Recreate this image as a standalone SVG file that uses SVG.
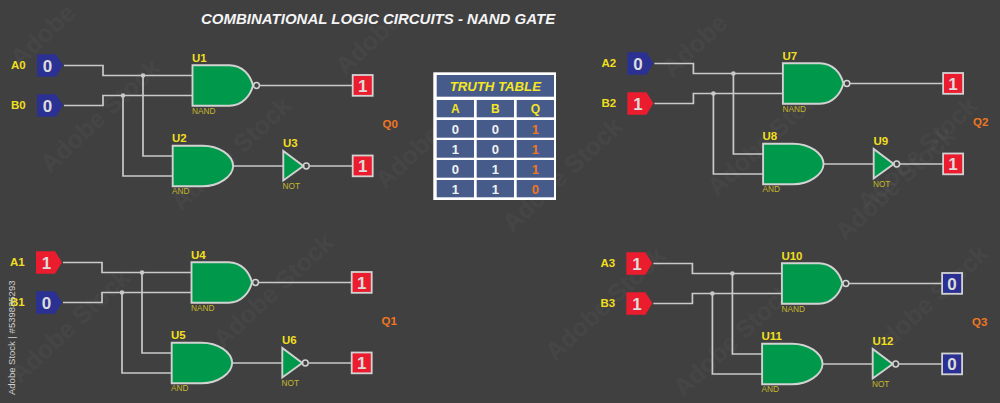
<svg xmlns="http://www.w3.org/2000/svg" width="1000" height="403" viewBox="0 0 1000 403">
<style>
text{font-family:"Liberation Sans",Arial,sans-serif;font-weight:bold}
.wm{fill:#fff;fill-opacity:.055;font-size:25px}
.side{fill:#cfcfcf;font-weight:normal;font-size:9.500px}
.title{fill:#f4f4f4;font-size:15px;font-style:italic}
.w{fill:none;stroke:#c9c9c9;stroke-width:1.700}
.g{fill:#00984a;stroke:#d2d2d2;stroke-width:1.900}
.bub{fill:none;stroke:#d2d2d2;stroke-width:1.500}
.dot{fill:#c9c9c9}
.pin{fill:#f0df1e;font-size:11.500px}
.u{fill:#f0df1e;font-size:11.500px}
.t{fill:#c4b72a;font-size:8.300px;font-weight:normal}
.q{fill:#ef7622;font-size:11.500px}
.v{fill:#dcdcdc;font-size:17px;text-anchor:middle}
.bx{stroke:#d2d2d2;stroke-width:1.800}
.r{fill:#ea1c2d}.b{fill:#2b3192}
.ip{stroke:none}
.cell{fill:#465b8a}
.hd{fill:#f5e622;font-size:12px;text-anchor:middle}
.tv{fill:#f2f2f2;font-size:13px;text-anchor:middle}
.tq{fill:#ef7622;font-size:13px;text-anchor:middle}
</style>
<defs>
<path id="and" class="g" d="M0,0H30C46,0 60,9 60.500,20.300C60,31 46,40.600 30,40.600H0Z"/>
<g id="nand"><path class="g" d="M0,0H37C50,0 58,10 60.500,20.300C58,30 50,40.600 37,40.600H0Z"/><circle class="bub" cx="64" cy="20.300" r="2.900"/></g>
<g id="not"><path class="g" d="M0,0V29.500L20,15Z"/><circle class="bub" cx="23" cy="15" r="2.900"/></g>
<polygon id="in" class="ip" points="0,0 19,0 26,11 19,22.500 0,22.500"/>
<g id="wires">
<path class="w" d="M64,65.500H103V75.500H192.500"/>
<path class="w" d="M64,105.500H103V95.500H192.500"/>
<path class="w" d="M143,75.500V156H172.700"/>
<path class="w" d="M123,95.500V176H172.700"/>
<path class="w" d="M259.500,85.500H352.700"/>
<path class="w" d="M233.500,166H283.300"/>
<path class="w" d="M309.500,166H352.700"/>
<circle class="dot" cx="143" cy="75.500" r="2.300"/>
<circle class="dot" cx="123" cy="95.500" r="2.300"/>
</g>
</defs>
<rect width="1000" height="403" fill="#404041"/>
<g id="watermark">
<text class="wm" transform="translate(50,174) rotate(-43)">Adobe Stock</text>
<text class="wm" transform="translate(181,212) rotate(-43)">Adobe Stock</text>
<text class="wm" transform="translate(20,384) rotate(-43)">Adobe Stock</text>
<text class="wm" transform="translate(223,349) rotate(-43)">Adobe Stock</text>
<text class="wm" transform="translate(385,190) rotate(-43)">Adobe Stock</text>
<text class="wm" transform="translate(512,233) rotate(-43)">Adobe Stock</text>
<text class="wm" transform="translate(555,362) rotate(-43)">Adobe Stock</text>
<text class="wm" transform="translate(717,197) rotate(-43)">Adobe Stock</text>
<text class="wm" transform="translate(867,212) rotate(-43)">Adobe Stock</text>
<text class="wm" transform="translate(683,398) rotate(-43)">Adobe Stock</text>
<text class="wm" transform="translate(878,360) rotate(-43)">Adobe Stock</text>
<text class="wm" transform="translate(345,76) rotate(-43)">Adobe</text>
<text class="wm" transform="translate(672,78) rotate(-43)">Adobe</text>
<text class="wm" transform="translate(20,68) rotate(-43)">Adobe</text>
<text class="wm" transform="translate(845,242) rotate(-43)">Adobe Stock</text>
</g>
<text class="title" x="201" y="24">COMBINATIONAL LOGIC CIRCUITS - NAND GATE</text>
<g id="connectors">
<use href="#wires"/>
<use href="#wires" transform="translate(-1 197)"/>
<use href="#wires" transform="translate(590.400 -2)"/>
<use href="#wires" transform="translate(589.400 198)"/>
</g>
<g id="A0"><use href="#in" class="b" x="37" y="54.300"/><text class="v" x="47.500" y="71.500">0</text><text class="pin" x="11" y="69">A0</text></g>
<g id="B0"><use href="#in" class="b" x="37" y="94.300"/><text class="v" x="47.500" y="111.500">0</text><text class="pin" x="11" y="109">B0</text></g>
<g id="U1"><use href="#nand" x="192.500" y="65.200"/><text class="u" x="192" y="62">U1</text><text class="t" x="192" y="114">NAND</text></g>
<g id="U2"><use href="#and" x="172.700" y="145.700"/><text class="u" x="172" y="142">U2</text><text class="t" x="172" y="194">AND</text></g>
<g id="U3"><use href="#not" x="283.300" y="151"/><text class="u" x="283" y="147">U3</text><text class="t" x="282.500" y="189">NOT</text></g>
<g id="Q0a"><rect class="bx r" x="352.700" y="75" width="20" height="20.800"/><text class="v" x="362.700" y="91.500">1</text></g>
<g id="Q0b"><rect class="bx r" x="352.700" y="155.500" width="20" height="20.800"/><text class="v" x="362.700" y="172">1</text></g>
<text class="q" x="382.500" y="128">Q0</text>

<g id="A1"><use href="#in" class="r" x="36" y="251.300"/><text class="v" x="46.500" y="268.500">1</text><text class="pin" x="10" y="266">A1</text></g>
<g id="B1"><use href="#in" class="b" x="36" y="291.300"/><text class="v" x="46.500" y="308.500">0</text><text class="pin" x="10" y="306">B1</text></g>
<g id="U4"><use href="#nand" x="191.500" y="262.200"/><text class="u" x="191" y="259">U4</text><text class="t" x="191" y="311">NAND</text></g>
<g id="U5"><use href="#and" x="171.700" y="342.700"/><text class="u" x="171" y="339">U5</text><text class="t" x="171" y="391">AND</text></g>
<g id="U6"><use href="#not" x="282.300" y="348"/><text class="u" x="282" y="344">U6</text><text class="t" x="281.500" y="386">NOT</text></g>
<g id="Q1a"><rect class="bx r" x="351.700" y="272" width="20" height="20.800"/><text class="v" x="361.700" y="288.500">1</text></g>
<g id="Q1b"><rect class="bx r" x="351.700" y="352.500" width="20" height="20.800"/><text class="v" x="361.700" y="369">1</text></g>
<text class="q" x="381.500" y="325">Q1</text>

<g id="A2"><use href="#in" class="b" x="627.400" y="52.300"/><text class="v" x="637.900" y="69.500">0</text><text class="pin" x="601.400" y="67">A2</text></g>
<g id="B2"><use href="#in" class="r" x="627.400" y="92.300"/><text class="v" x="637.900" y="109.500">1</text><text class="pin" x="601.400" y="107">B2</text></g>
<g id="U7"><use href="#nand" x="782.900" y="63.200"/><text class="u" x="782.400" y="60">U7</text><text class="t" x="782.400" y="112">NAND</text></g>
<g id="U8"><use href="#and" x="763.100" y="143.700"/><text class="u" x="762.400" y="140">U8</text><text class="t" x="762.400" y="192">AND</text></g>
<g id="U9"><use href="#not" x="873.700" y="149"/><text class="u" x="873.400" y="145">U9</text><text class="t" x="872.900" y="187">NOT</text></g>
<g id="Q2a"><rect class="bx r" x="943.100" y="73" width="20" height="20.800"/><text class="v" x="953.100" y="89.500">1</text></g>
<g id="Q2b"><rect class="bx r" x="943.100" y="153.500" width="20" height="20.800"/><text class="v" x="953.100" y="170">1</text></g>
<text class="q" x="973" y="126">Q2</text>

<g id="A3"><use href="#in" class="r" x="626.400" y="252.300"/><text class="v" x="636.900" y="269.500">1</text><text class="pin" x="600.400" y="267">A3</text></g>
<g id="B3"><use href="#in" class="r" x="626.400" y="292.300"/><text class="v" x="636.900" y="309.500">1</text><text class="pin" x="600.400" y="307">B3</text></g>
<g id="U10"><use href="#nand" x="781.900" y="263.200"/><text class="u" x="781.400" y="260">U10</text><text class="t" x="781.400" y="312">NAND</text></g>
<g id="U11"><use href="#and" x="762.100" y="343.700"/><text class="u" x="761.400" y="340">U11</text><text class="t" x="761.400" y="392">AND</text></g>
<g id="U12"><use href="#not" x="872.700" y="349"/><text class="u" x="872.400" y="345">U12</text><text class="t" x="871.900" y="387">NOT</text></g>
<g id="Q3a"><rect class="bx b" x="942.100" y="273" width="20" height="20.800"/><text class="v" x="952.100" y="289.500">0</text></g>
<g id="Q3b"><rect class="bx b" x="942.100" y="353.500" width="20" height="20.800"/><text class="v" x="952.100" y="370">0</text></g>
<text class="q" x="972" y="326">Q3</text>

<g id="truth-table">
<rect x="433.300" y="72.300" width="122.700" height="127.700" fill="#fff"/>
<rect class="cell" x="436.700" y="75" width="117.300" height="21.700"/>
<rect class="cell" x="436.700" y="100" width="37.300" height="17.300"/><rect class="cell" x="476.700" y="100" width="37.300" height="17.300"/><rect class="cell" x="516.700" y="100" width="37.300" height="17.300"/>
<rect class="cell" x="436.700" y="120" width="37.300" height="17.700"/><rect class="cell" x="476.700" y="120" width="37.300" height="17.700"/><rect class="cell" x="516.700" y="120" width="37.300" height="17.700"/>
<rect class="cell" x="436.700" y="140" width="37.300" height="17.700"/><rect class="cell" x="476.700" y="140" width="37.300" height="17.700"/><rect class="cell" x="516.700" y="140" width="37.300" height="17.700"/>
<rect class="cell" x="436.700" y="160" width="37.300" height="17.700"/><rect class="cell" x="476.700" y="160" width="37.300" height="17.700"/><rect class="cell" x="516.700" y="160" width="37.300" height="17.700"/>
<rect class="cell" x="436.700" y="180" width="37.300" height="17.300"/><rect class="cell" x="476.700" y="180" width="37.300" height="17.300"/><rect class="cell" x="516.700" y="180" width="37.300" height="17.300"/>
<text class="hd" x="495.300" y="90.500" style="font-style:italic;font-size:13.200px">TRUTH TABLE</text>
<text class="hd" x="455.300" y="113">A</text><text class="hd" x="495.300" y="113">B</text><text class="hd" x="535.300" y="113">Q</text>
<text class="tv" x="455.300" y="133.500">0</text><text class="tv" x="495.300" y="133.500">0</text><text class="tq" x="535.300" y="133.500">1</text>
<text class="tv" x="455.300" y="153.500">1</text><text class="tv" x="495.300" y="153.500">0</text><text class="tq" x="535.300" y="153.500">1</text>
<text class="tv" x="455.300" y="173.500">0</text><text class="tv" x="495.300" y="173.500">1</text><text class="tq" x="535.300" y="173.500">1</text>
<text class="tv" x="455.300" y="193.500">1</text><text class="tv" x="495.300" y="193.500">1</text><text class="tq" x="535.300" y="193.500">0</text>
</g>
<text class="side" transform="translate(15,395) rotate(-90)">Adobe Stock | #539835293</text>
</svg>
